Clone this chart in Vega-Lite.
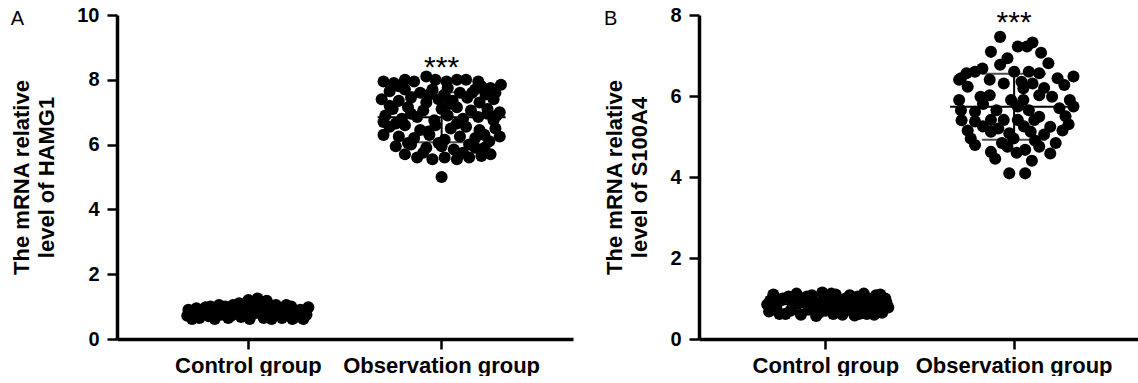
{
  "$schema": "https://vega.github.io/schema/vega-lite/v6.json",
  "background": "white",
  "padding": {"left": 10, "top": 5, "right": 0, "bottom": 0},
  "spacing": 30,
  "config": {
    "view": {"stroke": null},
    "font": "Liberation Sans",
    "axis": {
      "grid": false,
      "domainColor": "black",
      "domainWidth": 3.5,
      "tickColor": "black",
      "tickWidth": 2.5,
      "tickSize": 10,
      "labelColor": "black",
      "titleColor": "black",
      "labelFont": "Liberation Sans",
      "titleFont": "Liberation Sans",
      "labelFontWeight": "bold",
      "titleFontWeight": "bold",
      "labelLimit": 0
    }
  },
  "datasets": {
    "hamg1": [
      {"group": "Control group", "jitter": -1.0, "value": 0.72},
      {"group": "Control group", "jitter": -0.98, "value": 0.9},
      {"group": "Control group", "jitter": -0.85, "value": 0.95},
      {"group": "Control group", "jitter": -0.8, "value": 0.65},
      {"group": "Control group", "jitter": -0.7, "value": 0.98},
      {"group": "Control group", "jitter": -0.65, "value": 0.7},
      {"group": "Control group", "jitter": -0.55, "value": 0.62},
      {"group": "Control group", "jitter": -0.5, "value": 0.95},
      {"group": "Control group", "jitter": -0.45, "value": 0.75},
      {"group": "Control group", "jitter": -0.38, "value": 1.0},
      {"group": "Control group", "jitter": -0.33, "value": 0.65},
      {"group": "Control group", "jitter": -0.25, "value": 1.05},
      {"group": "Control group", "jitter": -0.2, "value": 0.8},
      {"group": "Control group", "jitter": -0.15, "value": 1.1},
      {"group": "Control group", "jitter": -0.12, "value": 0.68},
      {"group": "Control group", "jitter": -0.05, "value": 0.95},
      {"group": "Control group", "jitter": 0.0, "value": 1.2},
      {"group": "Control group", "jitter": 0.02, "value": 0.62},
      {"group": "Control group", "jitter": 0.08, "value": 1.05},
      {"group": "Control group", "jitter": 0.12, "value": 0.8},
      {"group": "Control group", "jitter": 0.15, "value": 1.25},
      {"group": "Control group", "jitter": 0.2, "value": 0.98},
      {"group": "Control group", "jitter": 0.25, "value": 0.65},
      {"group": "Control group", "jitter": 0.3, "value": 1.18},
      {"group": "Control group", "jitter": 0.35, "value": 0.9},
      {"group": "Control group", "jitter": 0.4, "value": 0.7},
      {"group": "Control group", "jitter": 0.45, "value": 1.05},
      {"group": "Control group", "jitter": 0.5, "value": 0.85},
      {"group": "Control group", "jitter": 0.55, "value": 0.65},
      {"group": "Control group", "jitter": 0.6, "value": 0.95},
      {"group": "Control group", "jitter": 0.65, "value": 0.75},
      {"group": "Control group", "jitter": 0.7, "value": 1.0},
      {"group": "Control group", "jitter": 0.78, "value": 0.68},
      {"group": "Control group", "jitter": 0.85, "value": 0.9},
      {"group": "Control group", "jitter": 0.9, "value": 0.62},
      {"group": "Control group", "jitter": 0.98, "value": 0.98},
      {"group": "Control group", "jitter": 0.95, "value": 0.75},
      {"group": "Control group", "jitter": -0.9, "value": 0.8},
      {"group": "Control group", "jitter": -0.6, "value": 0.85},
      {"group": "Control group", "jitter": 0.1, "value": 0.92},
      {"group": "Control group", "jitter": -0.3, "value": 0.85},
      {"group": "Control group", "jitter": 0.75, "value": 0.85},
      {"group": "Control group", "jitter": -0.92, "value": 0.62},
      {"group": "Control group", "jitter": -0.75, "value": 0.82},
      {"group": "Control group", "jitter": -0.62, "value": 1.0},
      {"group": "Control group", "jitter": -0.42, "value": 0.9},
      {"group": "Control group", "jitter": -0.28, "value": 0.72},
      {"group": "Control group", "jitter": -0.18, "value": 0.95},
      {"group": "Control group", "jitter": -0.08, "value": 0.8},
      {"group": "Control group", "jitter": 0.05, "value": 0.75},
      {"group": "Control group", "jitter": 0.18, "value": 1.12},
      {"group": "Control group", "jitter": 0.22, "value": 0.82},
      {"group": "Control group", "jitter": 0.32, "value": 1.0},
      {"group": "Control group", "jitter": 0.38, "value": 0.62},
      {"group": "Control group", "jitter": 0.48, "value": 0.95},
      {"group": "Control group", "jitter": 0.58, "value": 0.78},
      {"group": "Control group", "jitter": 0.62, "value": 1.05},
      {"group": "Control group", "jitter": 0.72, "value": 0.62},
      {"group": "Control group", "jitter": 0.82, "value": 0.78},
      {"group": "Control group", "jitter": 0.92, "value": 0.88},
      {"group": "Control group", "jitter": 0.0, "value": 1.0},
      {"group": "Control group", "jitter": -0.48, "value": 1.05},
      {"group": "Control group", "jitter": 0.28, "value": 0.75},
      {"group": "Control group", "jitter": -0.72, "value": 0.88},
      {"group": "Observation group", "jitter": -0.95, "value": 7.95},
      {"group": "Observation group", "jitter": -0.78, "value": 7.9},
      {"group": "Observation group", "jitter": -0.6, "value": 8.0},
      {"group": "Observation group", "jitter": -0.45, "value": 7.95},
      {"group": "Observation group", "jitter": -0.25, "value": 8.1},
      {"group": "Observation group", "jitter": -0.1, "value": 8.0},
      {"group": "Observation group", "jitter": 0.08, "value": 7.95},
      {"group": "Observation group", "jitter": 0.25, "value": 8.0},
      {"group": "Observation group", "jitter": 0.4, "value": 8.0},
      {"group": "Observation group", "jitter": 0.65, "value": 7.8},
      {"group": "Observation group", "jitter": 0.8, "value": 7.75},
      {"group": "Observation group", "jitter": 0.97, "value": 7.85},
      {"group": "Observation group", "jitter": -0.85, "value": 7.65},
      {"group": "Observation group", "jitter": -0.6, "value": 7.7},
      {"group": "Observation group", "jitter": -0.35, "value": 7.6},
      {"group": "Observation group", "jitter": -0.15, "value": 7.7},
      {"group": "Observation group", "jitter": 0.05, "value": 7.55},
      {"group": "Observation group", "jitter": 0.3, "value": 7.6},
      {"group": "Observation group", "jitter": 0.55, "value": 7.7},
      {"group": "Observation group", "jitter": 0.72, "value": 7.55},
      {"group": "Observation group", "jitter": 0.88, "value": 7.6},
      {"group": "Observation group", "jitter": -0.98, "value": 7.4},
      {"group": "Observation group", "jitter": -0.7, "value": 7.35},
      {"group": "Observation group", "jitter": -0.5, "value": 7.45},
      {"group": "Observation group", "jitter": -0.25, "value": 7.3},
      {"group": "Observation group", "jitter": -0.05, "value": 7.4},
      {"group": "Observation group", "jitter": 0.18, "value": 7.35},
      {"group": "Observation group", "jitter": 0.42, "value": 7.45},
      {"group": "Observation group", "jitter": 0.62, "value": 7.3},
      {"group": "Observation group", "jitter": 0.85, "value": 7.4},
      {"group": "Observation group", "jitter": -0.8, "value": 7.1},
      {"group": "Observation group", "jitter": -0.55, "value": 7.15},
      {"group": "Observation group", "jitter": -0.3, "value": 7.05},
      {"group": "Observation group", "jitter": 0.0, "value": 7.1},
      {"group": "Observation group", "jitter": 0.25, "value": 7.15},
      {"group": "Observation group", "jitter": 0.48, "value": 7.05},
      {"group": "Observation group", "jitter": 0.75, "value": 7.1},
      {"group": "Observation group", "jitter": 0.95, "value": 7.0},
      {"group": "Observation group", "jitter": -0.92, "value": 6.9},
      {"group": "Observation group", "jitter": -0.65, "value": 6.8},
      {"group": "Observation group", "jitter": -0.4, "value": 6.85},
      {"group": "Observation group", "jitter": -0.12, "value": 6.75},
      {"group": "Observation group", "jitter": 0.1, "value": 6.9},
      {"group": "Observation group", "jitter": 0.35, "value": 6.8},
      {"group": "Observation group", "jitter": 0.6, "value": 6.85},
      {"group": "Observation group", "jitter": 0.85, "value": 6.75},
      {"group": "Observation group", "jitter": -0.85, "value": 6.55},
      {"group": "Observation group", "jitter": -0.6, "value": 6.6},
      {"group": "Observation group", "jitter": -0.35, "value": 6.45},
      {"group": "Observation group", "jitter": -0.1, "value": 6.6},
      {"group": "Observation group", "jitter": 0.15, "value": 6.5},
      {"group": "Observation group", "jitter": 0.4, "value": 6.55},
      {"group": "Observation group", "jitter": 0.62, "value": 6.45},
      {"group": "Observation group", "jitter": 0.88, "value": 6.5},
      {"group": "Observation group", "jitter": -0.95, "value": 6.3},
      {"group": "Observation group", "jitter": -0.7, "value": 6.25},
      {"group": "Observation group", "jitter": -0.45, "value": 6.2},
      {"group": "Observation group", "jitter": -0.2, "value": 6.3},
      {"group": "Observation group", "jitter": 0.05, "value": 6.15},
      {"group": "Observation group", "jitter": 0.3, "value": 6.25},
      {"group": "Observation group", "jitter": 0.55, "value": 6.2},
      {"group": "Observation group", "jitter": 0.78, "value": 6.1},
      {"group": "Observation group", "jitter": 0.95, "value": 6.25},
      {"group": "Observation group", "jitter": -0.75, "value": 5.95},
      {"group": "Observation group", "jitter": -0.5, "value": 6.0},
      {"group": "Observation group", "jitter": -0.25, "value": 5.9},
      {"group": "Observation group", "jitter": 0.0, "value": 5.95},
      {"group": "Observation group", "jitter": 0.2, "value": 5.85},
      {"group": "Observation group", "jitter": 0.45, "value": 6.0},
      {"group": "Observation group", "jitter": 0.7, "value": 5.9},
      {"group": "Observation group", "jitter": -0.6, "value": 5.7},
      {"group": "Observation group", "jitter": -0.4, "value": 5.6},
      {"group": "Observation group", "jitter": -0.15, "value": 5.55},
      {"group": "Observation group", "jitter": 0.05, "value": 5.6},
      {"group": "Observation group", "jitter": 0.25, "value": 5.55},
      {"group": "Observation group", "jitter": 0.45, "value": 5.6},
      {"group": "Observation group", "jitter": 0.65, "value": 5.65},
      {"group": "Observation group", "jitter": 0.8, "value": 5.7},
      {"group": "Observation group", "jitter": 0.0, "value": 5.0},
      {"group": "Observation group", "jitter": -0.85, "value": 7.2},
      {"group": "Observation group", "jitter": -0.5, "value": 6.95},
      {"group": "Observation group", "jitter": -0.2, "value": 7.55},
      {"group": "Observation group", "jitter": 0.12, "value": 7.25},
      {"group": "Observation group", "jitter": 0.5, "value": 7.6},
      {"group": "Observation group", "jitter": 0.75, "value": 6.95},
      {"group": "Observation group", "jitter": -0.75, "value": 6.65},
      {"group": "Observation group", "jitter": -0.22, "value": 6.4},
      {"group": "Observation group", "jitter": 0.25, "value": 6.65},
      {"group": "Observation group", "jitter": 0.7, "value": 6.3},
      {"group": "Observation group", "jitter": -0.55, "value": 6.05},
      {"group": "Observation group", "jitter": -0.05, "value": 6.05},
      {"group": "Observation group", "jitter": 0.35, "value": 5.75},
      {"group": "Observation group", "jitter": 0.55, "value": 5.9},
      {"group": "Observation group", "jitter": -0.3, "value": 5.75},
      {"group": "Observation group", "jitter": 0.9, "value": 6.9},
      {"group": "Observation group", "jitter": -0.95, "value": 6.7},
      {"group": "Observation group", "jitter": 0.1, "value": 7.75},
      {"group": "Observation group", "jitter": -0.7, "value": 7.8},
      {"group": "Observation group", "jitter": 0.6, "value": 7.95}
    ],
    "s100a4": [
      {"group": "Control group", "jitter": -1.0, "value": 0.85},
      {"group": "Control group", "jitter": -0.97, "value": 0.68},
      {"group": "Control group", "jitter": -0.9, "value": 1.1},
      {"group": "Control group", "jitter": -0.85, "value": 0.75},
      {"group": "Control group", "jitter": -0.78, "value": 0.95},
      {"group": "Control group", "jitter": -0.7, "value": 0.62},
      {"group": "Control group", "jitter": -0.65, "value": 1.05},
      {"group": "Control group", "jitter": -0.58, "value": 0.8},
      {"group": "Control group", "jitter": -0.52, "value": 1.12},
      {"group": "Control group", "jitter": -0.45, "value": 0.6},
      {"group": "Control group", "jitter": -0.4, "value": 0.92},
      {"group": "Control group", "jitter": -0.33, "value": 0.72},
      {"group": "Control group", "jitter": -0.27, "value": 1.08},
      {"group": "Control group", "jitter": -0.2, "value": 0.57},
      {"group": "Control group", "jitter": -0.15, "value": 0.88},
      {"group": "Control group", "jitter": -0.1, "value": 1.15},
      {"group": "Control group", "jitter": -0.05, "value": 0.7},
      {"group": "Control group", "jitter": 0.02, "value": 0.98},
      {"group": "Control group", "jitter": 0.08, "value": 0.62},
      {"group": "Control group", "jitter": 0.12, "value": 1.1},
      {"group": "Control group", "jitter": 0.18, "value": 0.8},
      {"group": "Control group", "jitter": 0.23, "value": 0.6},
      {"group": "Control group", "jitter": 0.28, "value": 1.0},
      {"group": "Control group", "jitter": 0.33, "value": 0.72},
      {"group": "Control group", "jitter": 0.38, "value": 0.9},
      {"group": "Control group", "jitter": 0.43, "value": 0.58},
      {"group": "Control group", "jitter": 0.48, "value": 1.05},
      {"group": "Control group", "jitter": 0.53, "value": 0.75},
      {"group": "Control group", "jitter": 0.58, "value": 1.12},
      {"group": "Control group", "jitter": 0.63, "value": 0.62},
      {"group": "Control group", "jitter": 0.68, "value": 0.95},
      {"group": "Control group", "jitter": 0.73, "value": 0.7},
      {"group": "Control group", "jitter": 0.78, "value": 1.08},
      {"group": "Control group", "jitter": 0.83, "value": 0.85},
      {"group": "Control group", "jitter": 0.88, "value": 0.65},
      {"group": "Control group", "jitter": 0.93, "value": 1.0},
      {"group": "Control group", "jitter": 0.98, "value": 0.78},
      {"group": "Control group", "jitter": -0.6, "value": 0.95},
      {"group": "Control group", "jitter": 0.0, "value": 0.82},
      {"group": "Control group", "jitter": 0.45, "value": 0.85},
      {"group": "Control group", "jitter": -0.3, "value": 0.95},
      {"group": "Control group", "jitter": 0.7, "value": 0.82},
      {"group": "Control group", "jitter": -0.95, "value": 0.95},
      {"group": "Control group", "jitter": -0.8, "value": 0.62},
      {"group": "Control group", "jitter": -0.62, "value": 0.7},
      {"group": "Control group", "jitter": -0.48, "value": 0.88},
      {"group": "Control group", "jitter": -0.35, "value": 1.05},
      {"group": "Control group", "jitter": -0.22, "value": 0.75},
      {"group": "Control group", "jitter": -0.08, "value": 0.95},
      {"group": "Control group", "jitter": 0.05, "value": 1.12},
      {"group": "Control group", "jitter": 0.15, "value": 0.95},
      {"group": "Control group", "jitter": 0.25, "value": 0.85},
      {"group": "Control group", "jitter": 0.35, "value": 1.08},
      {"group": "Control group", "jitter": 0.5, "value": 0.62},
      {"group": "Control group", "jitter": 0.6, "value": 0.88},
      {"group": "Control group", "jitter": 0.75, "value": 0.6},
      {"group": "Control group", "jitter": 0.85, "value": 1.1},
      {"group": "Control group", "jitter": 0.95, "value": 0.9},
      {"group": "Control group", "jitter": -0.75, "value": 1.0},
      {"group": "Control group", "jitter": 0.4, "value": 0.7},
      {"group": "Control group", "jitter": -0.15, "value": 0.65},
      {"group": "Control group", "jitter": 0.65, "value": 1.0},
      {"group": "Observation group", "jitter": -0.27, "value": 7.46},
      {"group": "Observation group", "jitter": 0.02, "value": 7.22},
      {"group": "Observation group", "jitter": 0.17, "value": 7.22},
      {"group": "Observation group", "jitter": 0.26, "value": 7.32},
      {"group": "Observation group", "jitter": -0.42, "value": 7.09},
      {"group": "Observation group", "jitter": 0.4, "value": 7.07},
      {"group": "Observation group", "jitter": -0.15, "value": 6.93},
      {"group": "Observation group", "jitter": -0.27, "value": 6.77},
      {"group": "Observation group", "jitter": 0.52, "value": 6.81},
      {"group": "Observation group", "jitter": -0.56, "value": 6.68},
      {"group": "Observation group", "jitter": -0.68, "value": 6.6},
      {"group": "Observation group", "jitter": -0.82, "value": 6.56},
      {"group": "Observation group", "jitter": -0.91, "value": 6.44},
      {"group": "Observation group", "jitter": -0.04, "value": 6.6},
      {"group": "Observation group", "jitter": 0.2, "value": 6.6},
      {"group": "Observation group", "jitter": 0.37, "value": 6.56},
      {"group": "Observation group", "jitter": 0.93, "value": 6.48},
      {"group": "Observation group", "jitter": -0.94, "value": 6.4},
      {"group": "Observation group", "jitter": -0.8, "value": 6.23},
      {"group": "Observation group", "jitter": -0.44, "value": 6.4},
      {"group": "Observation group", "jitter": -0.21, "value": 6.31},
      {"group": "Observation group", "jitter": 0.11, "value": 6.19},
      {"group": "Observation group", "jitter": 0.26, "value": 6.31},
      {"group": "Observation group", "jitter": 0.78, "value": 6.27},
      {"group": "Observation group", "jitter": -0.44, "value": 6.02},
      {"group": "Observation group", "jitter": -0.59, "value": 5.98},
      {"group": "Observation group", "jitter": -0.94, "value": 5.9},
      {"group": "Observation group", "jitter": -0.09, "value": 5.9},
      {"group": "Observation group", "jitter": 0.37, "value": 6.02},
      {"group": "Observation group", "jitter": 0.58, "value": 5.98},
      {"group": "Observation group", "jitter": 0.87, "value": 5.9},
      {"group": "Observation group", "jitter": 0.93, "value": 5.74},
      {"group": "Observation group", "jitter": -0.91, "value": 5.65},
      {"group": "Observation group", "jitter": -0.68, "value": 5.61},
      {"group": "Observation group", "jitter": -0.33, "value": 5.65},
      {"group": "Observation group", "jitter": 0.02, "value": 5.74},
      {"group": "Observation group", "jitter": 0.2, "value": 5.65},
      {"group": "Observation group", "jitter": 0.7, "value": 5.7},
      {"group": "Observation group", "jitter": 0.37, "value": 5.49},
      {"group": "Observation group", "jitter": -0.68, "value": 5.37},
      {"group": "Observation group", "jitter": -0.21, "value": 5.41},
      {"group": "Observation group", "jitter": 0.02, "value": 5.41},
      {"group": "Observation group", "jitter": 0.55, "value": 5.24},
      {"group": "Observation group", "jitter": -0.42, "value": 5.12},
      {"group": "Observation group", "jitter": -0.12, "value": 5.08},
      {"group": "Observation group", "jitter": 0.23, "value": 5.12},
      {"group": "Observation group", "jitter": -0.68, "value": 4.79},
      {"group": "Observation group", "jitter": -0.42, "value": 4.62},
      {"group": "Observation group", "jitter": -0.15, "value": 4.75},
      {"group": "Observation group", "jitter": 0.14, "value": 4.67},
      {"group": "Observation group", "jitter": 0.37, "value": 4.75},
      {"group": "Observation group", "jitter": 0.55, "value": 4.58},
      {"group": "Observation group", "jitter": -0.12, "value": 4.09},
      {"group": "Observation group", "jitter": 0.14, "value": 4.09},
      {"group": "Observation group", "jitter": -0.8, "value": 5.15},
      {"group": "Observation group", "jitter": 0.64, "value": 4.84},
      {"group": "Observation group", "jitter": -0.24, "value": 4.84},
      {"group": "Observation group", "jitter": 0.11, "value": 5.9},
      {"group": "Observation group", "jitter": 0.29, "value": 5.41},
      {"group": "Observation group", "jitter": -0.42, "value": 5.41},
      {"group": "Observation group", "jitter": 0.67, "value": 6.44},
      {"group": "Observation group", "jitter": 0.08, "value": 6.35},
      {"group": "Observation group", "jitter": 0.8, "value": 5.5},
      {"group": "Observation group", "jitter": -0.55, "value": 5.8},
      {"group": "Observation group", "jitter": 0.45, "value": 6.2},
      {"group": "Observation group", "jitter": -0.55, "value": 5.25},
      {"group": "Observation group", "jitter": -0.3, "value": 5.2},
      {"group": "Observation group", "jitter": 0.12, "value": 5.25},
      {"group": "Observation group", "jitter": 0.45, "value": 5.05},
      {"group": "Observation group", "jitter": 0.75, "value": 5.15},
      {"group": "Observation group", "jitter": -0.9, "value": 5.4},
      {"group": "Observation group", "jitter": -0.05, "value": 4.95},
      {"group": "Observation group", "jitter": 0.3, "value": 4.9},
      {"group": "Observation group", "jitter": -0.75, "value": 4.95},
      {"group": "Observation group", "jitter": 0.85, "value": 5.3},
      {"group": "Observation group", "jitter": -0.35, "value": 4.45},
      {"group": "Observation group", "jitter": 0.25, "value": 4.4},
      {"group": "Observation group", "jitter": 0.0, "value": 4.6}
    ]
  },
  "hconcat": [
    {
      "title": {"text": "A", "anchor": "start", "frame": "bounds", "fontSize": 20, "fontWeight": "normal", "color": "black", "font": "Liberation Sans", "offset": -24},
      "width": 456,
      "height": 324,
      "encoding": {
        "x": {
          "field": "group", "type": "nominal", "sort": ["Control group", "Observation group"],
          "scale": {"paddingInner": 0, "paddingOuter": 0.18},
          "axis": {"title": null, "labelAngle": 0, "labelFontSize": 22, "labelPadding": 6}
        }
      },
      "layer": [
        {
          "data": {"name": "hamg1"},
          "mark": {"type": "point", "filled": true, "size": 145, "color": "black", "opacity": 1},
          "encoding": {
            "xOffset": {"field": "jitter", "type": "quantitative", "scale": {"domain": [-1.58, 1.58]}},
            "y": {"field": "value", "type": "quantitative", "scale": {"domain": [0, 10]},
              "title": ["The mRNA relative", "level of HAMG1"],
              "axis": {"values": [0, 2, 4, 6, 8, 10], "labelFontSize": 20, "labelPadding": 8, "titleFontSize": 22, "titleLineHeight": 25, "titlePadding": 18}}
          }
        },
        {
          "data": {"name": "hamg1"},
          "mark": {"type": "errorbar", "extent": "stdev", "ticks": {"size": 64, "thickness": 2, "color": "black"}, "rule": {"strokeWidth": 2, "color": "black"}},
          "encoding": {"y": {"field": "value", "type": "quantitative", "title": ["The mRNA relative", "level of HAMG1"]}}
        },
        {
          "data": {"name": "hamg1"},
          "mark": {"type": "tick", "size": 128, "thickness": 2, "color": "black"},
          "encoding": {"y": {"aggregate": "mean", "field": "value", "type": "quantitative", "title": ["The mRNA relative", "level of HAMG1"]}}
        },
        {
          "data": {"values": [{"group": "Observation group", "y": 8.1, "label": "***"}]},
          "mark": {"type": "text", "fontSize": 30, "baseline": "alphabetic", "color": "black", "font": "Liberation Sans"},
          "encoding": {"y": {"field": "y", "type": "quantitative", "title": ["The mRNA relative", "level of HAMG1"]}, "text": {"field": "label"}}
        }
      ]
    },
    {
      "title": {"text": "B", "anchor": "start", "frame": "bounds", "fontSize": 20, "fontWeight": "normal", "color": "black", "font": "Liberation Sans", "offset": -24},
      "width": 442,
      "height": 324,
      "encoding": {
        "x": {
          "field": "group", "type": "nominal", "sort": ["Control group", "Observation group"],
          "scale": {"paddingInner": 0, "paddingOuter": 0.174},
          "axis": {"title": null, "labelAngle": 0, "labelFontSize": 22, "labelPadding": 6}
        }
      },
      "layer": [
        {
          "data": {"name": "s100a4"},
          "mark": {"type": "point", "filled": true, "size": 145, "color": "black", "opacity": 1},
          "encoding": {
            "xOffset": {"field": "jitter", "type": "quantitative", "scale": {"domain": [-1.58, 1.58]}},
            "y": {"field": "value", "type": "quantitative", "scale": {"domain": [0, 8]},
              "title": ["The mRNA relative", "level of S100A4"],
              "axis": {"values": [0, 2, 4, 6, 8], "labelFontSize": 20, "labelPadding": 8, "titleFontSize": 22, "titleLineHeight": 25, "titlePadding": 18}}
          }
        },
        {
          "data": {"name": "s100a4"},
          "mark": {"type": "errorbar", "extent": "stdev", "ticks": {"size": 64, "thickness": 2, "color": "black"}, "rule": {"strokeWidth": 2, "color": "black"}},
          "encoding": {"y": {"field": "value", "type": "quantitative", "title": ["The mRNA relative", "level of S100A4"]}}
        },
        {
          "data": {"name": "s100a4"},
          "mark": {"type": "tick", "size": 128, "thickness": 2, "color": "black"},
          "encoding": {"y": {"aggregate": "mean", "field": "value", "type": "quantitative", "title": ["The mRNA relative", "level of S100A4"]}}
        },
        {
          "data": {"values": [{"group": "Observation group", "y": 7.57, "label": "***"}]},
          "mark": {"type": "text", "fontSize": 30, "baseline": "alphabetic", "color": "black", "font": "Liberation Sans"},
          "encoding": {"y": {"field": "y", "type": "quantitative", "title": ["The mRNA relative", "level of S100A4"]}, "text": {"field": "label"}}
        }
      ]
    }
  ]
}
